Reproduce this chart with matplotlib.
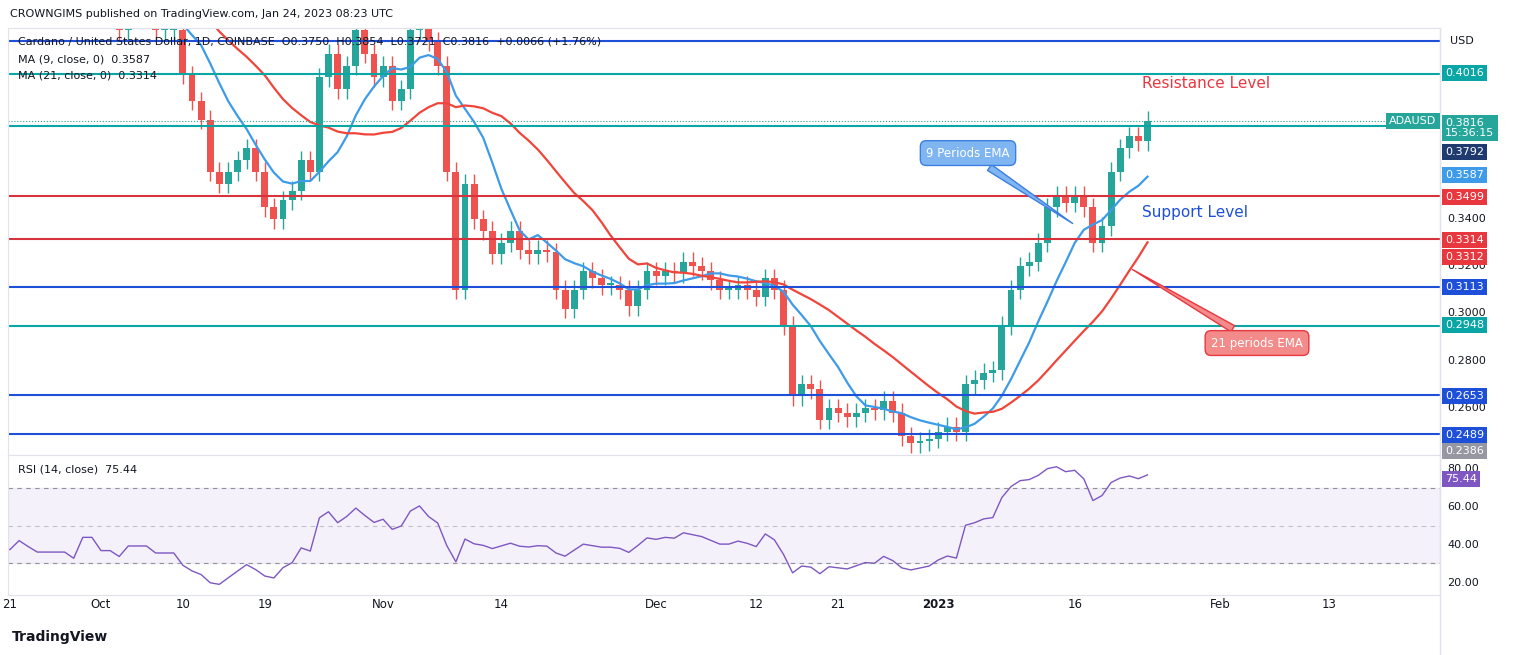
import matplotlib.pyplot as plt
import numpy as np

W, H = 1514, 655

# daily closes before the visible window (Aug 31 .. Sep 20 2022), warm-up for MA / RSI
pre_closes = [0.50, 0.49, 0.49, 0.48, 0.49, 0.50, 0.47, 0.48, 0.49, 0.51, 0.51,
              0.50, 0.47, 0.48, 0.47, 0.46, 0.46, 0.47, 0.46, 0.45, 0.45]
# daily closes, Sep 21 2022 .. Jan 24 2023
closes = [0.45, 0.46, 0.45, 0.44, 0.44, 0.44, 0.44, 0.43, 0.45, 0.45,
          0.43, 0.43, 0.42, 0.43, 0.43, 0.43, 0.42, 0.42, 0.42,
          0.401, 0.390, 0.382, 0.360, 0.355, 0.360, 0.365, 0.370, 0.360, 0.345,
          0.340, 0.348, 0.352, 0.365, 0.360, 0.400, 0.410, 0.395, 0.405, 0.420,
          0.410, 0.400, 0.405, 0.390, 0.395, 0.420, 0.430, 0.415, 0.405, 0.360,
          0.310, 0.355, 0.340, 0.335, 0.325, 0.330, 0.335, 0.327, 0.325, 0.327,
          0.326, 0.310, 0.302, 0.310, 0.318, 0.315, 0.312, 0.312, 0.310, 0.303,
          0.310, 0.318, 0.316, 0.318, 0.317, 0.322, 0.320, 0.318, 0.314, 0.310,
          0.310, 0.312, 0.310, 0.307, 0.315, 0.310, 0.295, 0.265, 0.270, 0.268,
          0.255, 0.260, 0.258, 0.256, 0.258, 0.260, 0.259, 0.263, 0.258, 0.248,
          0.245, 0.246, 0.247, 0.250, 0.252, 0.250, 0.270, 0.272, 0.275, 0.276,
          0.295, 0.310, 0.320, 0.322, 0.330, 0.345, 0.350, 0.347, 0.350, 0.345,
          0.330, 0.337, 0.360, 0.370, 0.375, 0.373, 0.3816]
wick = 0.004

levels = [0.4153, 0.4016, 0.3794, 0.3499, 0.3314, 0.3113, 0.2948, 0.2653, 0.2489]
level_colors = ['#1e4fd8', '#0aa5a5', '#0aa5a5', '#d8323c', '#d8323c',
                '#1e4fd8', '#0aa5a5', '#1e4fd8', '#1e4fd8']

price_ticks = [0.34, 0.32, 0.30, 0.28, 0.26]
date_ticks = [0, 10, 19, 28, 41, 54, 71, 82, 91, 102, 117, 133, 145]
date_labels = ['21', 'Oct', '10', '19', 'Nov', '14', 'Dec', '12', '21', '2023', '16', 'Feb', '13']
rsi_ticks = [80, 60, 40, 20]

allc = np.array(pre_closes + closes)
npre = len(pre_closes)
opens_all = np.r_[allc[0], allc[:-1]]
dall = np.arange(len(allc)) - npre

def sma(a, k):
    out = np.full(len(a), np.nan)
    for i in range(k - 1, len(a)):
        out[i] = a[i - k + 1:i + 1].mean()
    return out

def rsi(a, k=14):
    diff = np.diff(a)
    up = np.where(diff > 0, diff, 0)
    dn = np.where(diff < 0, -diff, 0)
    au, ad = up[:k].mean(), dn[:k].mean()
    out = np.full(len(a), np.nan)
    for i in range(k, len(diff)):
        au = (au * (k - 1) + up[i]) / k
        ad = (ad * (k - 1) + dn[i]) / k
        out[i + 1] = 100 - 100 / (1 + au / max(ad, 1e-9))
    return out

ma9, ma21, r = sma(allc, 9), sma(allc, 21), rsi(allc)

def px(x, y):
    return x / W, 1 - y / H

xl = ((8 - 10) / 9.1, (1440 - 10) / 9.1)
fig = plt.figure(figsize=(W / 100, H / 100), dpi=100)
ax = fig.add_axes([8 / W, 1 - 455 / H, 1432 / W, 427 / H])
ax2 = fig.add_axes([8 / W, 1 - 595 / H, 1432 / W, 140 / H])

green, red = '#26a69a', '#ef5350'
for i in range(npre, len(allc)):
    o, c_ = opens_all[i], allc[i]
    c = green if c_ >= o else red
    lo, hi = min(o, c_), max(o, c_)
    ax.vlines(dall[i], lo - wick, hi + wick, color=c, lw=1)
    ax.bar(dall[i], max(hi - lo, 0.0008), bottom=lo, width=0.75, color=c)
ax.plot(dall, ma9, color='#3d9be9', lw=1.6)
ax.plot(dall, ma21, color='#f0453a', lw=1.6)
for lv, lc in zip(levels, level_colors):
    ax.axhline(lv, color=lc, lw=1.5)
ax.axhline(allc[-1], color='#26a69a', lw=0.8, ls=':')
ax.set_xlim(*xl)
ax.set_ylim(0.2401, 0.4209)
for a in (ax, ax2):
    a.set_xticks([])
    a.set_yticks([])
    for s in a.spines.values():
        s.set_color('#e0e3eb')

ax2.plot(dall, r, color='#7e57c2', lw=1)
ax2.axhspan(30, 70, color='#7e57c2', alpha=0.08)
for v in (70, 50, 30):
    ax2.axhline(v, color='#787b86', lw=0.8, ls=(0, (4, 4)), alpha=0.8 if v != 50 else 0.4)
ax2.set_xlim(*xl)
ax2.set_ylim(13.2, 87.4)

# right price scale
fig.add_artist(plt.Line2D([1440 / W] * 2, [0, 1 - 28 / H], color='#e0e3eb', lw=1))
for p in price_ticks:
    y = 219 + (0.34 - p) * 2362
    fig.text(*px(1447, y), '%.4f' % p, fontsize=8, color='#131722', va='center')
for rv in rsi_ticks:
    y = 469 + (80 - rv) * 1.9
    fig.text(*px(1447, y), '%.2f' % rv, fontsize=8, color='#131722', va='center')
boxes = [(73, '0.4016', '#0aa5a5'), (152, '0.3792', '#1e3a6e'), (175, '0.3587', '#3d9be9'),
         (197, '0.3499', '#e8373f'), (240, '0.3314', '#e8373f'), (257, '0.3312', '#e8373f'),
         (287, '0.3113', '#1e4fd8'), (325, '0.2948', '#0aa5a5'), (396, '0.2653', '#1e4fd8'),
         (435, '0.2489', '#1e4fd8'), (451, '0.2386', '#9598a1'), (479, '75.44', '#7e57c2')]
for y, t, c in boxes:
    fig.text(*px(1445, y), t, fontsize=8, color='white', va='center',
             bbox=dict(boxstyle='square,pad=0.3', fc=c, ec='none'))
fig.text(*px(1445, 128), '0.3816\n15:36:15', fontsize=8, color='white', va='center',
         linespacing=0.95, bbox=dict(boxstyle='square,pad=0.3', fc='#26a69a', ec='none'))
fig.text(*px(1389, 121), 'ADAUSD', fontsize=8, color='white', va='center',
         bbox=dict(boxstyle='square,pad=0.3', fc='#26a69a', ec='none'))
fig.text(*px(1450, 41), 'USD', fontsize=8, color='#131722', va='center')

for dt, lb in zip(date_ticks, date_labels):
    fig.text(*px(10 + dt * 9.1, 605), lb, fontsize=8.5, ha='center', va='center',
             color='#131722', fontweight='bold' if lb == '2023' else 'normal')

fig.text(*px(10, 14), 'CROWNGIMS published on TradingView.com, Jan 24, 2023 08:23 UTC',
         fontsize=8, color='#131722', va='center')
fig.text(*px(18, 42), 'Cardano / United States Dollar, 1D, COINBASE  O0.3750  H0.3854  L0.3721  C0.3816  +0.0066 (+1.76%)',
         fontsize=8, color='#131722', va='center')
fig.text(*px(18, 59), 'MA (9, close, 0)  0.3587', fontsize=8, color='#131722', va='center')
fig.text(*px(18, 76), 'MA (21, close, 0)  0.3314', fontsize=8, color='#131722', va='center')
fig.text(*px(18, 470), 'RSI (14, close)  75.44', fontsize=8, color='#131722', va='center')
fig.text(*px(12, 637), 'TradingView', fontsize=10, color='#131722', va='center', fontweight='bold')

fig.text(*px(1142, 84), 'Resistance Level', fontsize=11, color='#e8373f', va='center')
fig.text(*px(1142, 212), 'Support Level', fontsize=11, color='#1e4fd8', va='center')

def callout(bx, by, tx, ty, text, fc, ec):
    xy = ((tx - 10) / 9.1, 0.34 + (219 - ty) / 2362)
    xt = ((bx - 10) / 9.1, 0.34 + (219 - by) / 2362)
    ax.annotate(text, xy=xy, xytext=xt, fontsize=8.5, color='white', ha='center', va='center',
                bbox=dict(boxstyle='round,pad=0.5', fc=fc, ec=ec),
                arrowprops=dict(arrowstyle='wedge,tail_width=0.6', fc=fc, ec=ec))

callout(968, 153, 1075, 225, '9 Periods EMA', '#7fb6f2', '#3d7ee0')
callout(1257, 343, 1130, 268, '21 periods EMA', '#f38b8b', '#e8373f')

fig.savefig('out.png', dpi=100)
